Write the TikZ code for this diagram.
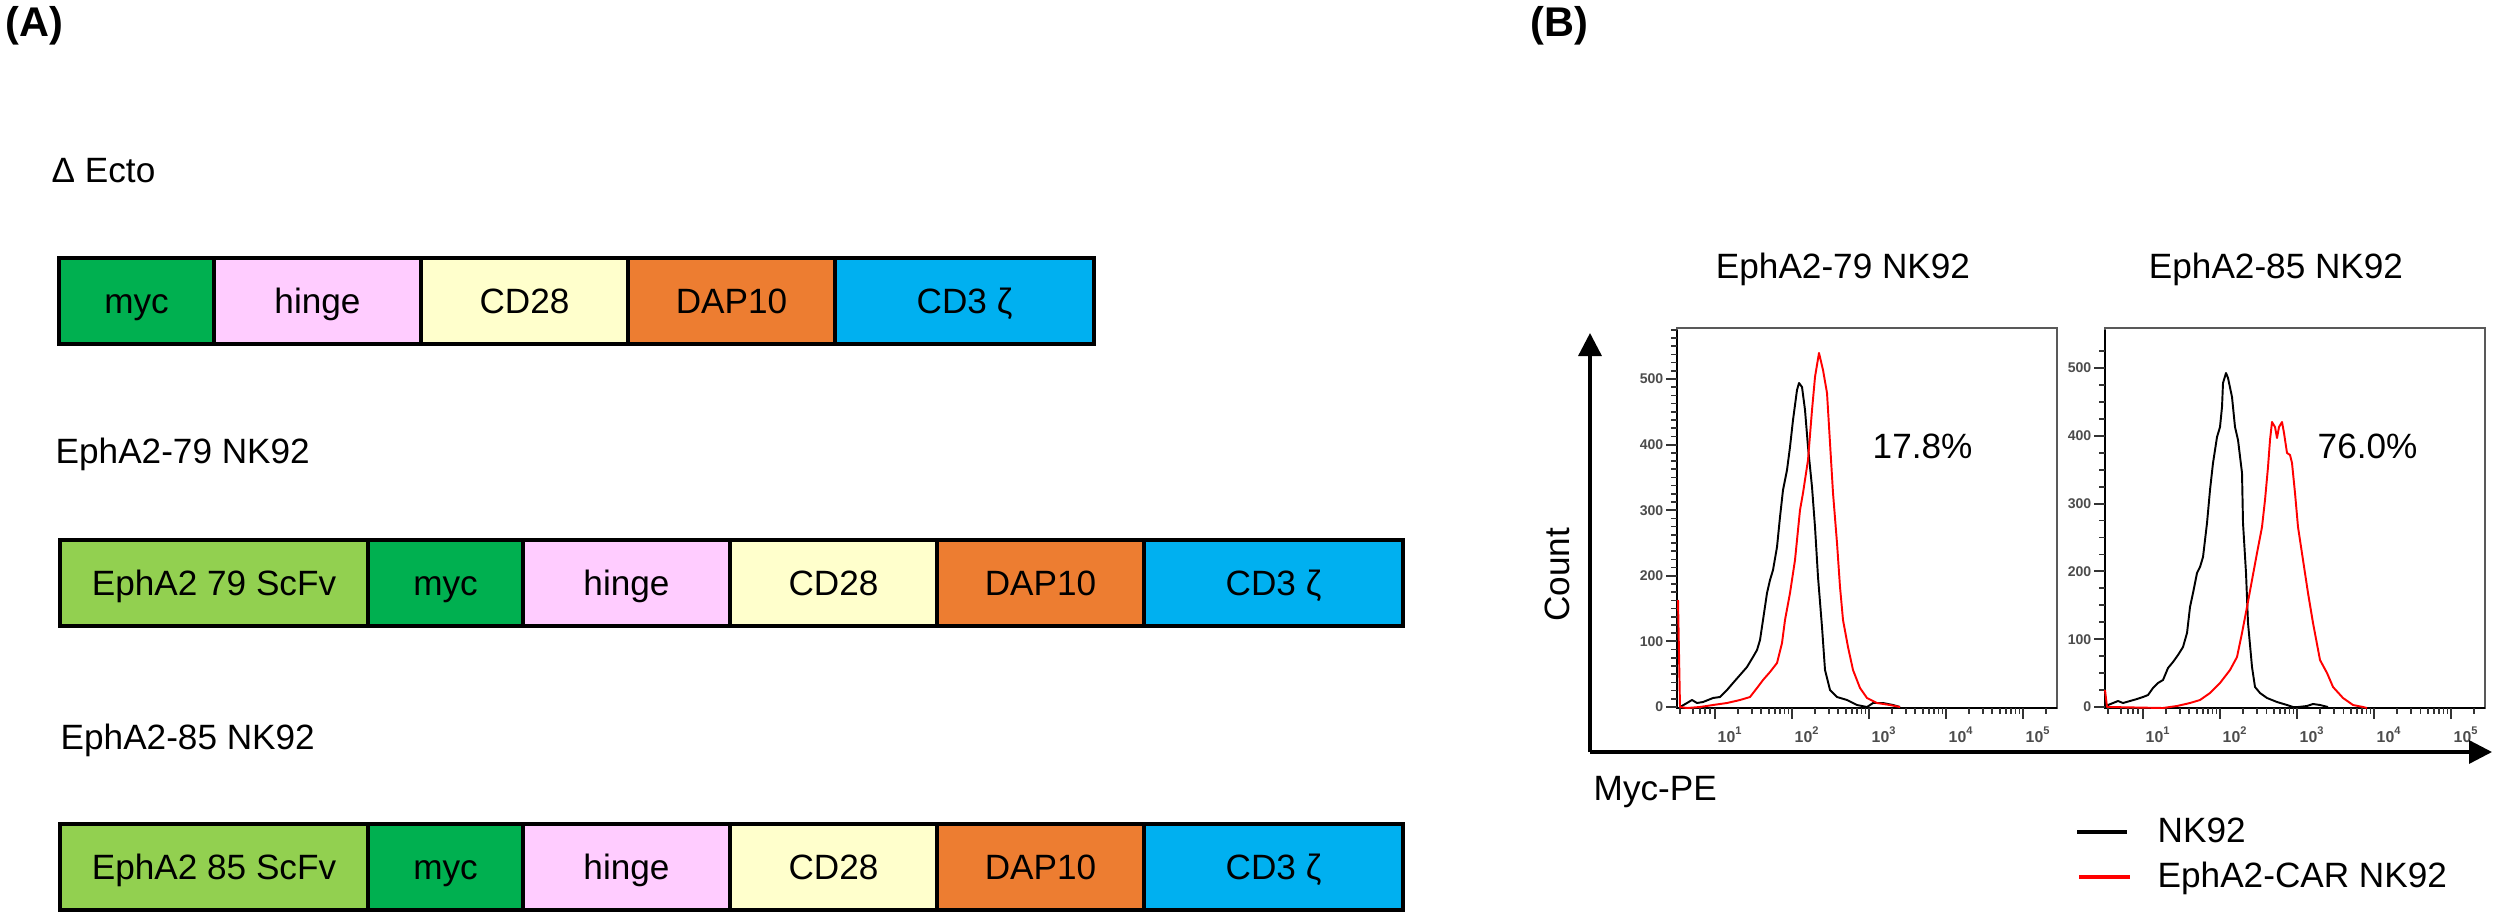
\documentclass[tikz,border=0pt]{standalone}
\usepackage{fontspec}
\setmainfont{Liberation Sans}
\usetikzlibrary{arrows.meta}

\definecolor{scfvgreen}{HTML}{92D050}
\definecolor{mycgreen}{HTML}{00B050}
\definecolor{hingepink}{HTML}{FFCCFF}
\definecolor{cdyellow}{HTML}{FFFFCC}
\definecolor{daporange}{HTML}{ED7D31}
\definecolor{cdblue}{HTML}{00B0F0}

\begin{document}
\begin{tikzpicture}[x=0.01cm, y=-0.01cm, auto]
    \tikzstyle{construct part} = [draw=black, line width=1pt, inner sep=0pt, minimum height=0.86cm, text height=7.2pt, text depth=0pt, font=\fontsize{10}{12}\selectfont]
    \tikzstyle{part scfv} = [construct part, fill=scfvgreen, minimum width=3.08cm]
    \tikzstyle{part myc} = [construct part, fill=mycgreen, minimum width=1.55cm]
    \tikzstyle{part hinge} = [construct part, fill=hingepink, minimum width=2.07cm]
    \tikzstyle{part cd28} = [construct part, fill=cdyellow, minimum width=2.07cm]
    \tikzstyle{part dap10} = [construct part, fill=daporange, minimum width=2.07cm]
    \tikzstyle{part cd3} = [construct part, fill=cdblue, minimum width=2.59cm]
    \tikzstyle{plain text} = [inner sep=0pt, font=\fontsize{10}{12}\selectfont]
    \tikzstyle{panel tag} = [inner sep=0pt, font=\fontsize{11.8}{14}\selectfont\bfseries]
    \tikzstyle{tick label} = [inner sep=0pt, text=black!70, font=\fontsize{4}{5}\selectfont\bfseries]
    \tikzstyle{tick label x} = [tick label, font=\fontsize{4.5}{5}\selectfont\bfseries]
    \tikzstyle{major tick} = [draw=black!80, line width=0.6pt]
    \tikzstyle{minor tick} = [draw=black!80, line width=0.5pt]
    \tikzstyle{plot frame} = [draw=black!65, line width=0.5pt]
    \tikzstyle{plot axis} = [draw=black, line width=0.7pt]
    \tikzstyle{axis arrow} = [draw=black, line width=0.95pt, -{Triangle[length=0.23cm, width=0.23cm]}]
    \tikzstyle{nk curve} = [draw=black, line width=0.55pt, line join=round]
    \tikzstyle{car curve} = [draw=red, line width=0.55pt, line join=round]
    \tikzstyle{legend line} = [line width=1.4pt]
\useasboundingbox (0,0) rectangle (2502,918);
% panel (A): constructs
\node[panel tag, anchor=base west] (tagA) at (5,37) {(A)};
\node[plain text, anchor=base west] (ectolabel) at (51,182) {Δ Ecto};
\node[part myc] (emyc) at (136.5,301) {myc};
\node[part hinge] (ehinge) at (317.5,301) {hinge};
\node[part cd28] (ecd28) at (524.5,301) {CD28};
\node[part dap10] (edap10) at (731.5,301) {DAP10};
\node[part cd3] (ecd3) at (964.5,301) {CD3 ζ};
\node[plain text, anchor=base west] (c79label) at (55,463) {EphA2-79 NK92};
\node[part scfv] (ascfv) at (214,583) {EphA2 79 ScFv};
\node[part myc] (amyc) at (445.5,583) {myc};
\node[part hinge] (ahinge) at (626.5,583) {hinge};
\node[part cd28] (acd28) at (833.5,583) {CD28};
\node[part dap10] (adap10) at (1040.5,583) {DAP10};
\node[part cd3] (acd3) at (1273.5,583) {CD3 ζ};
\node[plain text, anchor=base west] (c85label) at (60,749) {EphA2-85 NK92};
\node[part scfv] (bscfv) at (214,867) {EphA2 85 ScFv};
\node[part myc] (bmyc) at (445.5,867) {myc};
\node[part hinge] (bhinge) at (626.5,867) {hinge};
\node[part cd28] (bcd28) at (833.5,867) {CD28};
\node[part dap10] (bdap10) at (1040.5,867) {DAP10};
\node[part cd3] (bcd3) at (1273.5,867) {CD3 ζ};
% panel (B): histograms
\node[panel tag, anchor=base west] (tagB) at (1530,37) {(B)};
\node[plain text, anchor=base] (h79title) at (1843,278) {EphA2-79 NK92};
\node[plain text, anchor=base] (h85title) at (2276,278) {EphA2-85 NK92};
\foreach \px/\dx/\sc/\st/\nm in {1677/1715/0.656/12.5/46, 2105/2143/0.678/25/21} {
    \draw[plot frame] (\px,328) rectangle ++(380,380);
    \draw[plot axis] (\px,330) -- (\px,708) -- ++(380,0);
    \foreach \i in {0,...,\nm}
        \draw[minor tick] (\px,{707-\sc*\st*\i}) -- ++(-6,0);
    \foreach \c in {0,100,...,500} {
        \draw[major tick] (\px,{707-\sc*\c}) -- ++(-11,0);
        \node[tick label, anchor=east] (yl\px-\c) at ({\px-13},{707-\sc*\c}) {\c};
    }
    \foreach \k in {0,...,3}
        \foreach \m in {2,...,9}
            \draw[minor tick] ({\dx+77*(\k+log10(\m))},708) -- ++(0,6);
    \foreach \o in {-35,-22,-15,-10,-5,331}
        \draw[minor tick] ({\dx+\o},708) -- ++(0,6);
    \foreach \k in {1,...,5} {
        \draw[major tick] ({\dx+77*(\k-1)},708) -- ++(0,11);
        \node[tick label x, anchor=base west] (xl\px-\k) at ({\dx+77*(\k-1)+2},742) {10\textsuperscript{\k}};
    }
}
\draw[nk curve] plot coordinates {(1680,707) (1687,703) (1692,700) (1697,703) (1703,702) (1713,698) (1720,697) (1727,690) (1733,683) (1740,675) (1747,667) (1753,657) (1757,650) (1760,640) (1763,620) (1767,593) (1770,580) (1773,570) (1777,547) (1780,517) (1783,490) (1787,470) (1790,447) (1793,420) (1797,390) (1799,383) (1802,387) (1805,410) (1808,447) (1812,487) (1815,527) (1818,577) (1822,627) (1825,670) (1830,690) (1837,697) (1847,700) (1857,705) (1867,707) (1873,703) (1883,703) (1893,705) (1900,707)};
\draw[car curve] plot coordinates {(1678,600) (1680,707) (1687,708) (1700,707) (1713,705) (1727,703) (1740,700) (1750,697) (1757,688) (1763,680) (1770,672) (1777,663) (1782,643) (1785,620) (1790,593) (1795,560) (1800,510) (1803,493) (1808,460) (1812,410) (1815,377) (1819,353) (1823,370) (1827,393) (1830,443) (1833,493) (1837,543) (1840,587) (1843,620) (1848,647) (1853,670) (1860,688) (1867,698) (1877,703) (1890,705) (1900,707)};
\draw[nk curve] plot coordinates {(2106,707) (2108,705) (2113,703) (2118,701) (2123,703) (2130,701) (2137,699) (2143,697) (2148,695) (2153,688) (2158,683) (2163,680) (2168,668) (2173,662) (2178,655) (2183,647) (2187,633) (2190,607) (2193,593) (2197,573) (2200,567) (2203,557) (2205,540) (2207,523) (2210,490) (2213,463) (2217,437) (2220,427) (2222,407) (2223,383) (2226,373) (2228,378) (2232,397) (2235,427) (2238,440) (2242,473) (2243,523) (2246,573) (2248,623) (2252,667) (2255,687) (2260,693) (2267,698) (2277,702) (2287,705) (2293,707) (2298,707) (2307,706) (2313,704) (2320,705) (2328,707)};
\draw[car curve] plot coordinates {(2105,690) (2107,707) (2110,707) (2163,708) (2177,706) (2190,703) (2200,700) (2210,693) (2220,683) (2230,670) (2237,657) (2242,633) (2247,607) (2252,580) (2257,553) (2262,527) (2265,500) (2268,467) (2270,440) (2272,422) (2275,427) (2277,438) (2279,427) (2282,422) (2284,433) (2287,453) (2290,455) (2292,463) (2295,493) (2298,527) (2303,560) (2308,593) (2313,623) (2320,660) (2327,673) (2333,687) (2343,698) (2353,705) (2363,707) (2367,708)};
\node[plain text, anchor=base west] (pct79) at (1872,458) {17.8\%};
\node[plain text, anchor=base west] (pct85) at (2317,458) {76.0\%};
% axes
\coordinate (origin) at (1590,752);
\coordinate (counttip) at (1590,333);
\coordinate (petip) at (2492,752);
\draw[axis arrow] (origin) -- (counttip);
\draw[axis arrow] (origin) -- (petip);
\node[plain text, rotate=90] (countlabel) at (1557,575) {Count};
\node[plain text, anchor=base west] (pelabel) at (1593,800) {Myc-PE};
% legend
\coordinate (nkstart) at (2077,832);
\coordinate (nkend) at (2127,832);
\coordinate (carstart) at (2079,877);
\coordinate (carend) at (2130,877);
\draw[legend line, black] (nkstart) -- (nkend);
\draw[legend line, red] (carstart) -- (carend);
\node[plain text, anchor=base west] (nklabel) at (2157,842) {NK92};
\node[plain text, anchor=base west] (carlabel) at (2157,887) {EphA2-CAR NK92};
\end{tikzpicture}
\end{document}
